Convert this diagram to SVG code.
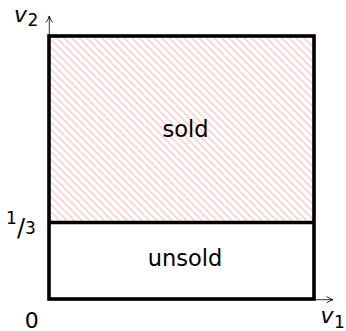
<svg xmlns="http://www.w3.org/2000/svg" width="346" height="331" viewBox="0 0 346 331">
  <style>
    .lbl { font-family: "DejaVu Sans", sans-serif; fill: #000; }
    .var { font-style: italic; }
    .frame { fill: none; stroke: #000; stroke-width: 3.6; }
    .axis { fill: none; stroke: #000; stroke-width: 0.8; }
  </style>
  <defs>
    <pattern id="hatch" patternUnits="userSpaceOnUse" width="10" height="5.3" patternTransform="rotate(45)">
      <line x1="0" y1="2.65" x2="10" y2="2.65" stroke="#f6a9a9" stroke-width="0.9"/>
    </pattern>
    <marker id="arr" viewBox="0 0 10 10" refX="9" refY="5" markerWidth="8" markerHeight="8" markerUnits="userSpaceOnUse" orient="auto">
      <path d="M1,1 Q5,4 9,5 Q5,6 1,9" fill="none" stroke="#000" stroke-width="1.1"/>
    </marker>
  </defs>

  <g id="connectors">
    <line class="axis" x1="49.3" y1="299" x2="49.3" y2="16" marker-end="url(#arr)"/>
    <line class="axis" x1="49" y1="299.7" x2="333" y2="299.7" marker-end="url(#arr)"/>
  </g>

  <g id="sold">
    <rect x="49" y="36" width="265" height="186.5" fill="url(#hatch)"/>
    <text class="lbl" x="185.5" y="136.5" font-size="22.5" text-anchor="middle">sold</text>
  </g>

  <g id="unsold">
    <text class="lbl" x="185" y="265.5" font-size="22.5" text-anchor="middle">unsold</text>
  </g>

  <g id="frame">
    <rect class="frame" x="49" y="36" width="265" height="263"/>
    <line class="frame" x1="49" y1="222.5" x2="314" y2="222.5"/>
  </g>

  <g id="labels">
    <text class="lbl var" x="14" y="22" font-size="22">v</text>
    <text class="lbl" x="27.5" y="25.5" font-size="17">2</text>
    <text class="lbl var" x="320.5" y="322.5" font-size="22">v</text>
    <text class="lbl" x="334" y="327.5" font-size="17">1</text>
    <text class="lbl" x="31.7" y="327.5" font-size="22" text-anchor="middle">0</text>
    <text class="lbl" x="6" y="223.5" font-size="17">1</text>
    <text class="lbl" x="17" y="235.5" font-size="24">/</text>
    <text class="lbl" x="25" y="233.5" font-size="17">3</text>
  </g>
</svg>
